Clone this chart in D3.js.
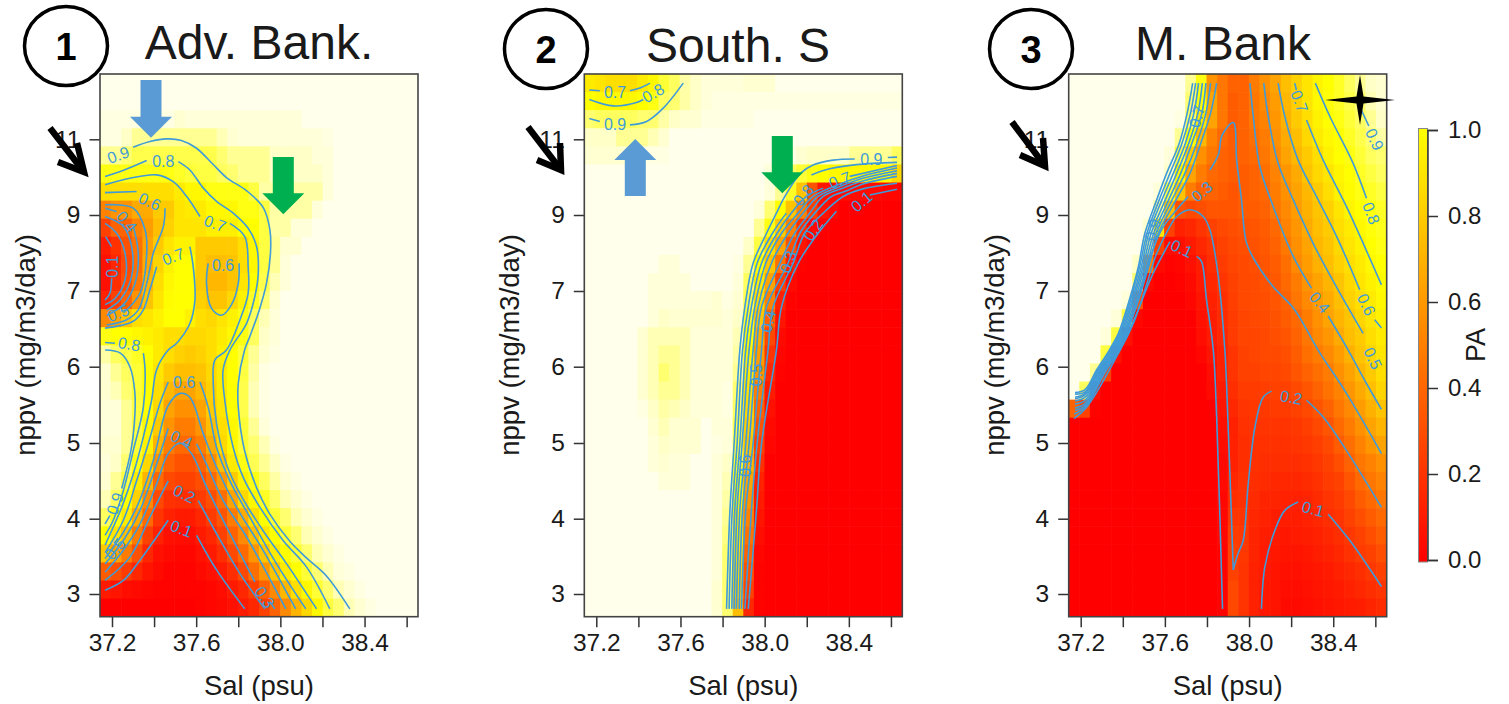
<!DOCTYPE html>
<html>
<head>
<meta charset="utf-8">
<title>PA by salinity and nppv</title>
<script src="https://cdn.jsdelivr.net/npm/d3@7"></script>
<style>
  html, body { margin: 0; padding: 0; background: #fff; }
  svg { display: block; }
  text { font-family: "Liberation Sans", Arial, sans-serif; fill: #1a1a1a; }
</style>
</head>
<body>
<svg id="chart" width="1509" height="704"></svg>
<script>
// heat values, in percent, top row first
const advGrid = [
[99,99,99,99,99,99,99,99,99,99,99,99,99,99,99,99,99,99,99,99,99,99,99,99,99,99,99,99,99,99],
[99,99,99,99,99,99,99,99,99,99,99,99,99,99,99,99,99,99,99,99,99,99,99,99,99,99,99,99,99,99],
[98,98,98,98,98,98,98,96,97,97,97,97,97,97,97,97,97,97,97,99,99,99,99,99,99,99,99,99,99,99],
[98,98,95,92,92,92,92,92,92,92,92,94,96,97,97,97,97,97,97,97,97,98,99,99,99,99,99,99,99,99],
[92,92,90,86,86,86,86,86,86,86,86,90,92,92,92,92,95,95,95,95,97,97,99,99,99,99,99,99,99,99],
[80,80,80,80,80,80,80,82,84,85,85,88,90,92,92,92,95,95,95,95,95,97,99,99,99,99,99,99,99,99],
[68,68,68,68,68,68,68,72,76,76,80,80,80,80,85,93,93,93,93,93,93,97,99,99,99,99,99,99,99,99],
[40,45,45,52,52,62,62,70,72,72,76,76,76,80,80,85,93,93,93,93,97,99,99,99,99,99,99,99,99,99],
[20,30,30,40,48,58,64,70,70,70,73,73,73,78,78,85,93,93,97,97,99,99,99,99,99,99,99,99,99,99],
[8,15,25,35,50,62,70,74,74,62,62,62,62,68,76,85,92,96,96,99,99,99,99,99,99,99,99,99,99,99],
[5,12,22,34,52,65,74,78,78,62,58,58,60,68,76,85,92,97,99,99,99,99,99,99,99,99,99,99,99,99],
[5,14,24,36,55,68,76,78,78,62,56,56,60,70,78,86,94,97,99,99,99,99,99,99,99,99,99,99,99,99],
[10,20,30,45,60,70,77,78,78,64,60,60,66,74,82,90,96,99,99,99,99,99,99,99,99,99,99,99,99,99],
[42,50,60,68,70,74,78,78,74,68,66,70,74,80,88,94,97,99,99,99,99,99,99,99,99,99,99,99,99,99],
[80,78,78,76,74,72,68,68,66,66,68,72,76,80,88,95,97,99,99,99,99,99,99,99,99,99,99,99,99,99],
[93,88,85,82,78,72,68,64,62,64,68,73,78,84,92,96,98,99,99,99,99,99,99,99,99,99,99,99,99,99],
[96,92,88,84,78,70,62,58,58,60,66,72,78,85,93,98,99,99,99,99,99,99,99,99,99,99,99,99,99,99],
[96,94,90,84,78,68,56,50,50,56,64,72,78,86,94,98,99,99,99,99,99,99,99,99,99,99,99,99,99,99],
[97,97,92,85,78,66,50,44,44,50,62,70,78,86,94,98,99,99,99,99,99,99,99,99,99,99,99,99,99,99],
[97,97,92,85,76,62,45,38,38,45,58,68,76,84,92,97,99,99,99,99,99,99,99,99,99,99,99,99,99,99],
[96,96,92,84,74,55,38,32,32,38,52,66,76,84,90,94,98,99,99,99,99,99,99,99,99,99,99,99,99,99],
[97,95,90,80,66,44,30,25,25,30,42,58,72,80,87,92,95,98,99,99,99,99,99,99,99,99,99,99,99,99],
[96,92,85,72,55,32,22,20,20,24,32,46,62,74,80,88,93,96,98,99,99,99,99,99,99,99,99,99,99,99],
[94,88,78,64,42,22,15,14,14,18,24,34,50,66,76,82,90,94,96,98,99,99,99,99,99,99,99,99,99,99],
[88,80,72,52,32,16,10,8,8,12,18,26,38,52,68,78,84,90,94,96,98,99,99,99,99,99,99,99,99,99],
[78,70,58,38,20,10,5,4,4,8,12,20,30,42,58,70,78,84,90,94,96,98,99,99,99,99,99,99,99,99],
[62,50,38,25,12,5,3,2,2,5,8,14,22,32,46,60,72,78,84,90,94,96,98,99,99,99,99,99,99,99],
[28,24,18,12,6,3,1,1,1,3,5,8,14,22,34,46,60,72,78,84,90,94,97,98,99,99,99,99,99,99],
[8,6,4,3,2,1,1,1,1,1,2,4,8,12,20,30,42,56,68,76,84,90,94,96,98,99,99,99,99,99],
[0,0,0,0,0,0,0,0,0,1,2,3,5,8,12,20,30,42,55,66,76,85,90,94,96,98,99,99,99,99]
];

const southGrid = [
[72,70,68,68,68,72,76,84,88,93,95,97,97,97,97,96,96,96,99,99,99,99,99,99,99,99,99,99,99,99],
[78,76,76,76,76,78,80,88,90,93,95,97,98,98,98,98,98,98,98,98,98,98,98,98,98,98,98,98,98,98],
[90,88,88,88,88,90,90,93,95,96,96,98,98,98,98,98,99,99,99,99,99,99,99,99,99,99,99,99,99,99],
[95,95,95,92,92,92,94,96,99,99,99,99,99,99,99,99,99,99,99,99,99,99,99,99,99,99,99,99,99,99],
[96,96,96,96,96,98,98,98,99,99,99,99,99,99,99,99,99,99,99,98,96,95,95,95,95,92,92,92,92,88],
[99,99,99,99,99,99,99,99,99,99,99,99,99,99,99,99,99,97,97,88,84,80,78,76,76,76,76,76,76,66],
[99,99,99,99,99,99,99,99,99,99,99,99,99,99,99,99,99,97,92,82,60,25,6,4,4,4,4,3,2,2],
[99,99,99,99,99,99,99,99,99,99,99,99,99,99,99,99,97,90,78,60,40,20,6,3,0,0,0,0,0,0],
[99,99,99,99,99,99,99,99,99,99,99,99,99,99,99,99,92,80,62,40,15,3,0,0,0,0,0,0,0,0],
[99,99,99,99,99,99,99,99,99,99,99,99,99,99,99,95,85,68,50,25,6,0,0,0,0,0,0,0,0,0],
[99,99,99,99,99,99,99,97,97,99,99,99,99,99,98,92,78,60,35,10,1,0,0,0,0,0,0,0,0,0],
[99,99,99,99,99,99,97,97,97,97,99,99,99,99,97,88,72,50,20,3,0,0,0,0,0,0,0,0,0,0],
[99,99,99,99,99,99,97,97,97,97,97,97,96,98,96,86,66,40,10,1,0,0,0,0,0,0,0,0,0,0],
[99,99,99,99,99,99,97,95,96,96,96,96,96,97,95,82,60,30,6,0,0,0,0,0,0,0,0,0,0,0],
[99,99,99,99,99,96,94,94,94,94,97,97,97,97,94,78,52,22,3,0,0,0,0,0,0,0,0,0,0,0],
[99,99,99,99,99,96,94,92,92,94,97,97,97,97,93,75,48,16,2,0,0,0,0,0,0,0,0,0,0,0],
[99,99,99,99,99,96,94,90,92,94,97,97,97,97,92,72,45,12,1,0,0,0,0,0,0,0,0,0,0,0],
[99,99,99,99,99,96,94,92,92,94,97,97,97,98,90,69,38,8,0,0,0,0,0,0,0,0,0,0,0,0],
[99,99,99,99,99,98,95,93,94,95,97,97,97,98,88,66,30,5,0,0,0,0,0,0,0,0,0,0,0,0],
[99,99,99,99,99,99,96,94,96,96,96,99,97,97,86,63,25,3,0,0,0,0,0,0,0,0,0,0,0,0],
[99,99,99,99,99,99,97,95,96,96,96,99,98,97,85,60,20,2,0,0,0,0,0,0,0,0,0,0,0,0],
[99,99,99,99,99,99,97,96,97,97,99,99,97,95,82,55,15,0,0,0,0,0,0,0,0,0,0,0,0,0],
[99,99,99,99,99,99,99,97,97,97,99,99,97,94,78,50,10,0,0,0,0,0,0,0,0,0,0,0,0,0],
[99,99,99,99,99,99,99,99,99,99,99,99,97,93,75,45,8,0,0,0,0,0,0,0,0,0,0,0,0,0],
[99,99,99,99,99,99,99,99,99,99,99,99,97,92,72,40,6,0,0,0,0,0,0,0,0,0,0,0,0,0],
[99,99,99,99,99,99,99,99,99,99,99,99,97,91,70,35,4,0,0,0,0,0,0,0,0,0,0,0,0,0],
[99,99,99,99,99,99,99,99,99,99,99,99,97,90,68,30,2,0,0,0,0,0,0,0,0,0,0,0,0,0],
[99,99,99,99,99,99,99,99,99,99,99,99,97,90,66,25,1,0,0,0,0,0,0,0,0,0,0,0,0,0],
[99,99,99,99,99,99,99,99,99,99,99,99,96,90,64,20,1,0,0,0,0,0,0,0,0,0,0,0,0,0],
[99,99,99,99,99,99,99,99,99,99,99,99,96,90,58,12,1,0,0,0,0,0,0,0,0,0,0,0,0,0]
];

const mBankGrid = [
[99,99,99,99,99,99,99,99,99,99,99,92,80,45,36,30,30,38,44,50,58,64,70,75,78,82,88,92,95,96],
[99,99,99,99,99,99,99,99,99,99,99,90,78,50,36,28,30,36,42,48,56,63,70,76,79,82,86,90,94,96],
[99,99,99,99,99,99,99,99,99,99,98,88,70,50,36,28,30,36,40,46,54,62,68,74,78,80,84,88,92,95],
[99,99,99,99,99,99,99,99,99,99,92,78,56,40,32,28,30,34,38,44,52,58,66,72,76,78,82,86,90,93],
[99,99,99,99,99,99,99,99,99,97,86,62,44,36,30,28,30,32,36,42,50,56,62,68,74,78,80,84,88,90],
[99,99,99,99,99,99,99,99,99,95,75,50,38,32,30,28,28,30,34,40,46,52,60,66,70,75,78,82,85,88],
[99,99,99,99,99,99,99,99,97,85,60,38,30,30,28,26,28,30,32,38,44,50,56,62,68,74,77,80,82,85],
[99,99,99,99,99,99,99,99,92,60,25,22,24,26,26,26,28,28,30,36,42,48,54,60,64,70,75,78,80,82],
[99,99,99,99,99,99,99,96,70,20,10,12,16,20,22,24,25,26,28,32,40,46,52,58,62,68,72,76,79,81],
[99,99,99,99,99,99,99,92,20,4,5,8,12,16,20,22,24,25,27,30,37,44,50,56,60,66,70,74,78,80],
[99,99,99,99,99,99,95,40,3,1,2,5,9,14,18,21,22,24,26,28,34,42,48,54,58,64,68,72,76,78],
[99,99,99,99,99,99,90,3,0,0,1,3,8,12,16,20,22,23,25,27,32,38,45,50,55,60,66,70,74,77],
[99,99,99,99,99,97,25,0,0,0,0,2,6,10,14,19,22,23,24,26,30,36,42,47,52,58,64,68,72,76],
[99,99,99,99,97,85,2,0,0,0,0,0,5,9,13,18,21,22,23,25,28,32,38,44,50,55,60,65,70,74],
[99,99,99,97,85,5,0,0,0,0,0,0,4,8,12,18,21,21,22,24,26,30,36,42,46,52,58,62,68,72],
[99,99,99,85,5,0,0,0,0,0,0,0,2,6,10,16,20,21,22,22,24,28,34,38,42,48,54,60,65,70],
[99,99,92,20,0,0,0,0,0,0,0,0,0,4,10,16,20,20,21,21,22,26,30,34,38,44,50,56,62,68],
[99,88,5,0,0,0,0,0,0,0,0,0,0,3,8,14,18,18,19,20,20,22,26,30,35,40,46,52,58,65],
[30,20,1,0,0,0,0,0,0,0,0,0,0,0,6,12,16,17,17,18,18,20,22,26,30,36,42,48,54,60],
[0,0,0,0,0,0,0,0,0,0,0,0,0,0,5,10,15,16,16,16,16,17,19,22,26,32,38,44,50,55],
[0,0,0,0,0,0,0,0,0,0,0,0,0,0,4,10,14,15,15,15,15,16,17,19,22,28,34,40,46,50],
[0,0,0,0,0,0,0,0,0,0,0,0,0,0,3,10,14,15,14,14,14,14,15,17,20,24,30,36,40,44],
[0,0,0,0,0,0,0,0,0,0,0,0,0,0,3,12,15,14,13,12,12,12,13,15,18,20,26,32,36,40],
[0,0,0,0,0,0,0,0,0,0,0,0,0,0,2,14,15,13,11,11,10,10,11,13,16,18,22,28,32,36],
[0,0,0,0,0,0,0,0,0,0,0,0,0,0,2,16,16,12,10,9,9,9,10,12,14,16,20,24,28,32],
[0,0,0,0,0,0,0,0,0,0,0,0,0,0,2,18,17,11,9,8,7,8,9,10,12,14,17,20,24,28],
[0,0,0,0,0,0,0,0,0,0,0,0,0,0,1,20,17,11,8,7,6,6,7,9,10,12,15,18,20,24],
[0,0,0,0,0,0,0,0,0,0,0,0,0,0,1,20,16,10,8,6,5,5,6,7,8,10,12,14,17,20],
[0,0,0,0,0,0,0,0,0,0,0,0,0,0,1,22,16,10,7,6,4,4,5,6,7,8,10,12,14,16],
[0,0,0,0,0,0,0,0,0,0,0,0,0,0,1,22,16,10,7,6,3,3,4,5,6,7,8,9,11,13]
];

// contour pieces as [Sal, nppv]; a piece ends where R left a gap for the label
const advLines = [
  [[37.30,10.79],[37.38,10.94],[37.46,11.01],[37.53,10.97],[37.60,10.77],[37.68,10.34],[37.744,9.99],[37.84,9.64],[37.918,9.2],[37.95,8.62],[37.953,8.0],[37.934,7.2],[37.90,6.75],[37.855,6.4],[37.83,6.22],[37.80,5.78],[37.80,5.47],[37.83,4.9],[37.887,4.41],[37.95,4.06],[38.045,3.7],[38.124,3.48],[38.219,3.24],[38.33,2.81]],
  [[37.167,6.22],[37.24,6.18],[37.285,6.0],[37.309,5.65],[37.306,5.25],[37.29,4.9],[37.246,4.4]],
  [[37.19,4.04],[37.167,3.93]],
  [[37.167,10.02],[37.24,10.15],[37.365,10.44]],
  [[37.515,10.41],[37.57,10.19],[37.634,9.71],[37.697,9.36],[37.776,9.05],[37.847,8.65],[37.887,8.17],[37.895,7.47],[37.879,6.93],[37.839,6.57],[37.76,6.22],[37.728,5.96],[37.736,5.56],[37.776,4.94],[37.823,4.55],[37.903,4.15],[38.013,3.71],[38.124,3.36],[38.235,2.81]],
  [[37.167,6.32],[37.214,6.31]],
  [[37.349,6.18],[37.357,5.96],[37.349,5.47],[37.301,4.9],[37.254,4.37],[37.206,3.98],[37.167,3.78]],
  [[37.167,9.8],[37.285,9.97],[37.412,10.06],[37.491,9.88],[37.555,9.49],[37.618,8.96]],
  [[37.76,8.78],[37.831,8.43],[37.847,7.64],[37.847,6.97],[37.808,6.62],[37.744,6.22],[37.689,6.09],[37.681,5.78],[37.697,5.25],[37.744,4.72],[37.808,4.33],[37.918,3.84],[38.03,3.4],[38.172,2.81]],
  [[37.167,6.51],[37.301,6.6],[37.349,6.75],[37.38,7.03],[37.412,7.64]],
  [[37.57,8.17],[37.586,7.64],[37.594,6.88],[37.57,6.57],[37.507,6.31],[37.467,6.22],[37.412,5.96],[37.388,5.56],[37.349,5.08],[37.301,4.59],[37.246,4.15],[37.167,3.65]],
  [[37.467,5.8],[37.428,5.52],[37.372,4.99],[37.317,4.5],[37.254,3.98],[37.167,3.55]],
  [[37.618,5.8],[37.657,5.47],[37.697,4.94],[37.76,4.5],[37.855,4.02],[37.982,3.4],[38.121,2.81]],
  [[37.167,9.59],[37.317,9.62]],
  [[37.452,9.18],[37.444,8.7],[37.396,7.99],[37.365,7.2],[37.325,6.75],[37.27,6.62],[37.175,6.55]],
  [[37.167,3.47],[37.254,3.82],[37.325,4.2],[37.396,4.77],[37.467,5.49],[37.523,5.65],[37.57,5.6],[37.634,5.12],[37.697,4.68],[37.792,4.15],[37.918,3.58],[38.073,2.81]],
  [[37.167,3.4],[37.254,3.71],[37.333,4.11],[37.412,4.72],[37.467,5.19]],
  [[37.602,4.99],[37.649,4.72],[37.728,4.24],[37.839,3.76],[38.026,2.81]],
  [[37.167,3.29],[37.254,3.58],[37.333,3.93],[37.412,4.46],[37.467,4.86],[37.523,5],[37.578,4.86],[37.649,4.42],[37.744,3.89],[37.879,3.16]],
  [[37.974,2.81],[37.95,2.9]],
  [[37.167,3.18],[37.285,3.49],[37.38,4.02],[37.467,4.5]],
  [[37.61,4.24],[37.697,3.8],[37.808,3.27],[37.926,2.81]],
  [[37.167,3.05],[37.254,3.18],[37.333,3.45],[37.467,3.98]],
  [[37.602,3.78],[37.697,3.32],[37.831,2.81]],
  [[37.167,9.27],[37.301,9.18],[37.357,8.61],[37.365,7.99],[37.333,6.97],[37.254,6.71]],
  [[37.167,9.18],[37.222,9.09]],
  [[37.301,8.7],[37.325,7.99],[37.309,7.2],[37.254,6.82],[37.175,6.68]],
  [[37.167,8.96],[37.254,8.7],[37.293,8.17],[37.293,7.38],[37.238,6.88],[37.175,6.75]],
  [[37.167,8.78],[37.222,8.52],[37.262,7.99],[37.262,7.29],[37.214,6.9],[37.167,6.82]],
  [[37.17,8.43],[37.198,8.17]],
  [[37.198,7.33],[37.19,6.97],[37.167,6.88]],
  [[37.657,7.73],[37.649,7.2],[37.673,6.77],[37.72,6.68],[37.768,6.82],[37.8,7.2],[37.804,7.73]]
];

const southLines = [
  [[37.167,12.3],[37.217,12.28]],
  [[37.36,12.28],[37.407,12.35],[37.455,12.48]],
  [[37.167,12.05],[37.281,11.88],[37.391,11.97],[37.423,12.05]],
  [[37.167,11.55],[37.217,11.47]],
  [[37.36,11.38],[37.439,11.47],[37.518,11.82],[37.613,12.48]],
  [[37.819,2.81],[37.835,4.11],[37.855,4.99],[37.882,6.22],[37.906,6.79],[37.945,7.73],[38.009,8.52],[38.056,9.05],[38.096,9.49],[38.17,10.1],[38.23,10.32],[38.325,10.45],[38.428,10.48]],
  [[38.585,10.52],[38.629,10.53]],
  [[37.831,2.81],[37.846,4.11],[37.869,4.99],[37.895,6.22],[37.922,6.79],[37.964,7.73],[38.037,8.52],[38.103,9.05]],
  [[38.222,10.06],[38.309,10.22],[38.436,10.33],[38.629,10.39]],
  [[37.844,2.81],[37.858,4.11],[37.882,4.99],[37.91,6.22],[37.937,6.79],[37.985,7.73],[38.059,8.52],[38.127,9.05],[38.198,9.49],[38.278,9.71]],
  [[38.404,10.02],[38.629,10.31]],
  [[37.855,2.81],[37.869,4.11],[37.893,4.99],[37.926,6.22],[37.953,6.79],[38.005,7.73],[38.08,8.52],[38.159,9.05],[38.23,9.49],[38.357,9.82],[38.467,10.03],[38.629,10.24]],
  [[37.866,2.81],[37.882,4.11],[37.91,4.99],[37.945,6.22],[37.969,6.79],[38.032,7.73],[38.111,8.52],[38.183,9.05],[38.254,9.49],[38.357,9.75],[38.467,9.97],[38.629,10.17]],
  [[37.879,2.81],[37.895,4.11],[37.926,4.99],[37.961,6.22],[37.985,6.79],[38.072,7.73],[38.143,8.52],[38.214,9.05],[38.278,9.49],[38.357,9.68],[38.467,9.9],[38.629,10.1]],
  [[37.89,2.81],[37.91,4.11],[37.945,4.99],[37.985,6.22],[38.009,6.79],[38.111,7.73],[38.167,8.52],[38.238,9.05],[38.317,9.49],[38.38,9.62],[38.467,9.82],[38.629,10.02]],
  [[37.906,2.81],[37.937,4.11],[37.964,4.99],[38.016,6.22],[38.04,6.79],[38.135,7.73],[38.19,8.52],[38.278,9.05],[38.373,9.49],[38.467,9.69],[38.629,9.84]],
  [[37.922,2.81],[37.961,4.11],[37.985,4.99],[38.056,6.22],[38.08,6.79],[38.159,7.73],[38.254,8.52],[38.341,9.1]],
  [[38.5,9.53],[38.629,9.68]]
];

const mBankLines = [
  [[37.732,12.48],[37.706,11.69],[37.668,10.89],[37.608,10.1],[37.561,9.4],[37.505,8.52],[37.474,7.64],[37.431,6.88],[37.379,6.44],[37.336,6.22],[37.276,5.96],[37.221,5.7],[37.173,5.66]],
  [[37.746,12.48],[37.722,11.69],[37.681,10.89],[37.624,10.1],[37.573,9.4],[37.515,8.52],[37.48,7.64],[37.437,6.88],[37.385,6.44],[37.342,6.22],[37.282,5.96],[37.221,5.67],[37.173,5.64]],
  [[37.76,12.48],[37.738,11.69],[37.697,10.89],[37.64,10.1],[37.586,9.4],[37.524,8.52],[37.488,7.64],[37.444,6.88],[37.391,6.44],[37.349,6.22],[37.289,5.96],[37.221,5.65],[37.173,5.6]],
  [[37.778,12.48],[37.757,11.69],[37.713,10.89],[37.656,10.1],[37.602,9.4],[37.535,8.52],[37.496,7.64],[37.45,6.88],[37.398,6.44],[37.355,6.22],[37.293,5.96],[37.221,5.63],[37.173,5.58]],
  [[37.795,12.48],[37.776,11.69],[37.728,10.89],[37.675,10.1],[37.618,9.4],[37.547,8.52],[37.504,7.64],[37.458,6.88],[37.404,6.44],[37.361,6.22],[37.3,5.96],[37.221,5.6],[37.173,5.55]],
  [[37.817,12.48],[37.795,11.69],[37.751,10.89],[37.695,10.1],[37.634,9.4],[37.558,8.52],[37.513,7.64],[37.466,6.88],[37.41,6.44],[37.368,6.22],[37.304,5.96],[37.221,5.56],[37.173,5.51]],
  [[37.846,12.48],[37.817,11.69],[37.77,10.89],[37.719,10.1],[37.653,9.4],[37.569,8.52],[37.523,7.64],[37.475,6.88],[37.418,6.44],[37.374,6.22],[37.311,5.96],[37.221,5.52],[37.173,5.46]],
  [[37.173,5.43],[37.221,5.49],[37.316,5.96],[37.38,6.22],[37.434,6.57],[37.49,7.11],[37.532,7.91],[37.584,8.61],[37.656,9.14],[37.711,9.49]],
  [[37.814,10.19],[37.854,10.59],[37.872,11.11],[37.925,11.44],[37.941,10.45],[37.964,9.4],[37.988,8.26],[38.035,7.73],[38.115,7.11],[38.217,6.75],[38.328,6.22],[38.463,5.65],[38.629,4.86]],
  [[37.168,5.38],[37.221,5.47],[37.323,5.96],[37.387,6.22],[37.45,6.57],[37.505,7.03],[37.561,7.99],[37.624,8.7],[37.656,8.96],[37.719,9.14],[37.782,8.96],[37.814,8.61],[37.854,7.38],[37.885,6.22],[37.893,5.78],[37.925,3.32]],
  [[37.925,3.32],[37.948,3.54],[37.972,3.71],[37.996,4.46],[38.028,5.21],[38.067,5.6],[38.107,5.68]],
  [[38.273,5.56],[38.352,5.34],[38.463,4.9],[38.629,4.15]],
  [[37.168,5.32],[37.228,5.47],[37.379,6.18],[37.466,6.7],[37.537,7.38],[37.624,8.3]],
  [[37.751,7.91],[37.774,7.78],[37.798,6.88],[37.83,6.22],[37.846,5.34],[37.874,2.81]],
  [[38.059,2.81],[38.075,3.36],[38.122,3.84],[38.17,4.11],[38.233,4.22]],
  [[38.376,4.06],[38.479,3.71],[38.629,3.1]],
  [[38.004,12.48],[38.02,11.6],[38.051,10.28],[38.115,9.22],[38.21,7.91],[38.297,7.07]],
  [[38.376,6.67],[38.471,6.22],[38.558,5.78],[38.629,5.44]],
  [[38.07,12.48],[38.091,11.6],[38.138,10.37],[38.21,9.4],[38.312,8.17],[38.415,7.11],[38.542,6.44]],
  [[38.138,12.48],[38.17,11.6],[38.233,10.45],[38.32,9.49],[38.423,8.35],[38.526,7.03]],
  [[38.597,6.62],[38.629,6.51]],
  [[38.217,12.48],[38.225,12.3]],
  [[38.273,11.51],[38.352,10.45],[38.463,9.22],[38.629,7.16]],
  [[38.315,12.48],[38.384,11.6],[38.494,10.37],[38.558,9.44]],
  [[38.526,11.86],[38.569,11.35]]
];

// contour labels: text, Sal, nppv, slope in degrees
const advLabels = [
  ["0.9",37.23,10.59,-20],["0.8",37.444,10.41,0],["0.6",37.38,9.36,25],["0.7",37.69,8.78,20],
  ["0.7",37.491,7.91,-20],["0.6",37.728,7.69,0],["0.4",37.27,8.83,50],["0.1",37.2,7.64,-90],
  ["0.5",37.23,6.71,-20],["0.8",37.282,6.3,10],["0.6",37.543,5.8,0],["0.4",37.53,5.05,25],
  ["0.2",37.543,4.33,25],["0.1",37.53,3.87,20],["0.9",37.214,4.2,-70],["0.5",37.214,3.6,-50],["0.3",37.926,2.96,55]
];
const southLabels = [
  ["0.7",37.289,12.23,0],["0.8",37.47,12.22,-30],["0.9",37.289,11.4,0],["0.9",38.507,10.47,0],
  ["0.8",38.183,9.53,-50],["0.7",38.357,9.93,-20],["0.1",38.46,9.36,-40],["0.2",38.23,8.61,-55],
  ["0.3",38.111,7.77,-70],["0.4",38.016,6.6,-75],["0.5",37.961,5.89,-90],["0.6",37.906,4.7,-90]
];
const mBankLabels = [
  ["0.7",37.751,11.6,-75],["0.3",37.775,9.62,-40],["0.9",37.54,8.61,-75],["0.1",37.68,8.12,25],
  ["0.7",38.24,12.0,70],["0.9",38.597,11.0,65],["0.8",38.581,9.05,70],["0.6",38.558,6.82,65],
  ["0.5",38.589,6.11,65],["0.4",38.336,6.85,50],["0.2",38.2,5.6,10],["0.1",38.304,4.13,15]
];

const salTicks = [37.2,37.4,37.6,37.8,38.0,38.2,38.4,38.6];
const salLabelled = [37.2,37.6,38.0,38.4];
const nppvTicks = [3,4,5,6,7,9,11];
const paTicks = [0,0.2,0.4,0.6,0.8,1];

const svg = d3.select('#chart');

// nppv axis is stretched below 7, so the scale is piecewise
const plotTop = 74, plotBottom = 616.7;
const y = d3.scaleLinear()
  .domain([2.71,3,4,5,6,7,9,11,12.72])
  .range([plotBottom,594,518.7,443,366.7,291,215,139.3,plotTop]);

const heat = d3.scaleLinear().domain([0,78,90,95,100])
  .range(['#ff0000','#ffff00','#ffff70','#ffffc8','#fffff4']);
const contourBlue = '#3f9bd9';

function drawPanel(opts) {
  const x = d3.scaleLinear().domain([37.143,38.654]).range([opts.left, opts.left + 318]);
  const col = d3.scaleBand().domain(d3.range(30)).range([opts.left, opts.left + 318]);
  const row = d3.scaleBand().domain(d3.range(30)).range([plotTop, plotBottom]);
  const g = svg.append('g');
  const clipId = 'clip' + Math.round(opts.left);
  g.append('clipPath').attr('id', clipId).append('rect')
    .attr('x', opts.left).attr('y', plotTop).attr('width', 318).attr('height', plotBottom - plotTop);

  opts.grid.forEach((vals, r) => {
    g.append('g').selectAll('rect').data(vals).enter().append('rect')
      .attr('x', (d, c) => col(c))
      .attr('y', row(r))
      .attr('width', col.bandwidth() + 0.6)
      .attr('height', row.bandwidth() + 0.6)
      .attr('fill', d => heat(d))
      .attr('clip-path', 'url(#' + clipId + ')');
  });

  const line = d3.line().x(d => x(d[0])).y(d => y(d[1])).curve(d3.curveCatmullRom.alpha(0.5));
  g.append('g').selectAll('path').data(opts.lines).enter().append('path')
    .attr('d', line)
    .attr('fill', 'none')
    .attr('stroke', contourBlue)
    .attr('stroke-width', 1.6)
    .attr('clip-path', 'url(#' + clipId + ')');

  g.append('g').selectAll('text').data(opts.labels).enter().append('text')
    .attr('transform', d => 'translate(' + x(d[1]) + ',' + y(d[2]) + ') rotate(' + d[3] + ')')
    .attr('text-anchor', 'middle')
    .attr('dy', '0.36em')
    .style('font-size', '16px')
    .style('fill', contourBlue)
    .text(d => d[0]);

  // axes
  const xAxis = d3.axisBottom(x).tickValues(salTicks).tickSize(10.5).tickPadding(6)
    .tickFormat(d => salLabelled.includes(d) ? d.toFixed(1) : '');
  const yAxis = d3.axisLeft(y).tickValues(nppvTicks).tickSize(10.5).tickPadding(9)
    .tickFormat(d3.format('d'));
  [g.append('g').attr('transform', 'translate(0,' + plotBottom + ')').call(xAxis),
   g.append('g').attr('transform', 'translate(' + opts.left + ',0)').call(yAxis)].forEach(a => {
    a.select('.domain').remove();
    a.selectAll('line').attr('stroke', '#333').attr('stroke-width', 1.5);
    a.selectAll('text').style('font-size', '24.5px');
  });

  g.append('rect')
    .attr('x', opts.left).attr('y', plotTop).attr('width', 318).attr('height', plotBottom - plotTop)
    .attr('fill', 'none').attr('stroke', '#444').attr('stroke-width', 1.6);

  g.append('text').attr('x', opts.left + 159).attr('y', 695)
    .attr('text-anchor', 'middle').style('font-size', '27.5px').text('Sal (psu)');
  g.append('text')
    .attr('transform', 'translate(' + (opts.left - 65) + ',345) rotate(-90)')
    .attr('text-anchor', 'middle').style('font-size', '27.5px').text('nppv (mg/m3/day)');

  g.append('text').attr('x', opts.titleX).attr('y', opts.titleY)
    .attr('text-anchor', 'middle').style('font-size', '48px').text(opts.title);

  g.append('ellipse').attr('cx', opts.circle[0]).attr('cy', opts.circle[1])
    .attr('rx', 41.5).attr('ry', 39.5)
    .attr('fill', 'none').attr('stroke', '#000').attr('stroke-width', 3.5);
  g.append('text').attr('x', opts.circle[0]).attr('y', opts.circle[1] + 14)
    .attr('text-anchor', 'middle').style('font-size', '38px').style('font-weight', 'bold')
    .style('fill', '#000').text(opts.num);
}

drawPanel({left: 100, grid: advGrid, lines: advLines, labels: advLabels, title: 'Adv. Bank.', titleX: 259, titleY: 59, circle: [66,46], num: '1'});
drawPanel({left: 584.3, grid: southGrid, lines: southLines, labels: southLabels, title: 'South. S', titleX: 738, titleY: 62, circle: [546,49], num: '2'});
drawPanel({left: 1068.7, grid: mBankGrid, lines: mBankLines, labels: mBankLabels, title: 'M. Bank', titleX: 1223, titleY: 60, circle: [1031,49], num: '3'});

// colour key
const keyY = d3.scaleLinear().domain([0,1]).range([560,130]);
const grad = svg.append('defs').append('linearGradient').attr('id', 'key')
  .attr('x1', 0).attr('x2', 0).attr('y1', 1).attr('y2', 0);
grad.append('stop').attr('offset', 0).attr('stop-color', '#ff0000');
grad.append('stop').attr('offset', 1).attr('stop-color', '#ffff00');
svg.append('rect').attr('x', 1418.5).attr('y', 128.5).attr('width', 9).attr('height', 433.5)
  .attr('fill', 'url(#key)').attr('stroke', '#888').attr('stroke-width', 1);
const keyAxis = svg.append('g').attr('transform', 'translate(1427.5,0)')
  .call(d3.axisRight(keyY).tickValues(paTicks).tickSize(10.5).tickPadding(10).tickFormat(d3.format('.1f')));
keyAxis.select('.domain').attr('stroke', '#333').attr('stroke-width', 1.5);
keyAxis.selectAll('line').attr('stroke', '#333').attr('stroke-width', 1.5);
keyAxis.selectAll('text').style('font-size', '24px');
svg.append('text').attr('transform', 'translate(1485,345) rotate(-90)')
  .attr('text-anchor', 'middle').style('font-size', '27px').text('PA');

// pasted-on annotations
function blockArrow(cx, tail, neck, tip, color) {
  const p = d3.path();
  p.moveTo(cx - 10.5, tail); p.lineTo(cx + 10.5, tail); p.lineTo(cx + 10.5, neck);
  p.lineTo(cx + 21, neck); p.lineTo(cx, tip); p.lineTo(cx - 21, neck); p.lineTo(cx - 10.5, neck);
  p.closePath();
  svg.append('path').attr('d', p.toString()).attr('fill', color);
}
blockArrow(151, 80, 116.7, 137.7, '#5b9bd5');
blockArrow(283.3, 157, 193.3, 214.3, '#00b050');
blockArrow(635.3, 196, 160, 139, '#5b9bd5');
blockArrow(782.3, 136, 172.3, 193.3, '#00b050');

function blackArrow(t0, t1, tip, a1, a2) {
  svg.append('path')
    .attr('d', d3.line()([[t0, t1], tip]))
    .attr('stroke', '#000').attr('stroke-width', 6.5).attr('fill', 'none');
  svg.append('path')
    .attr('d', d3.line()([a1, tip, a2]))
    .attr('stroke', '#000').attr('stroke-width', 6.5).attr('fill', 'none').attr('stroke-linejoin', 'miter');
}
blackArrow(50, 128, [84, 172], [77, 143], [58, 162]);
blackArrow(528, 127, [561, 170], [560, 143], [537, 160]);
blackArrow(1012, 122, [1045, 166], [1043, 138], [1020, 155]);

svg.append('path')
  .attr('d', 'M1360,75 L1363.5,96.5 L1395,100 L1363.5,103.5 L1360,125 L1356.5,103.5 L1325,100 L1356.5,96.5 Z')
  .attr('fill', '#000');
</script>
</body>
</html>
